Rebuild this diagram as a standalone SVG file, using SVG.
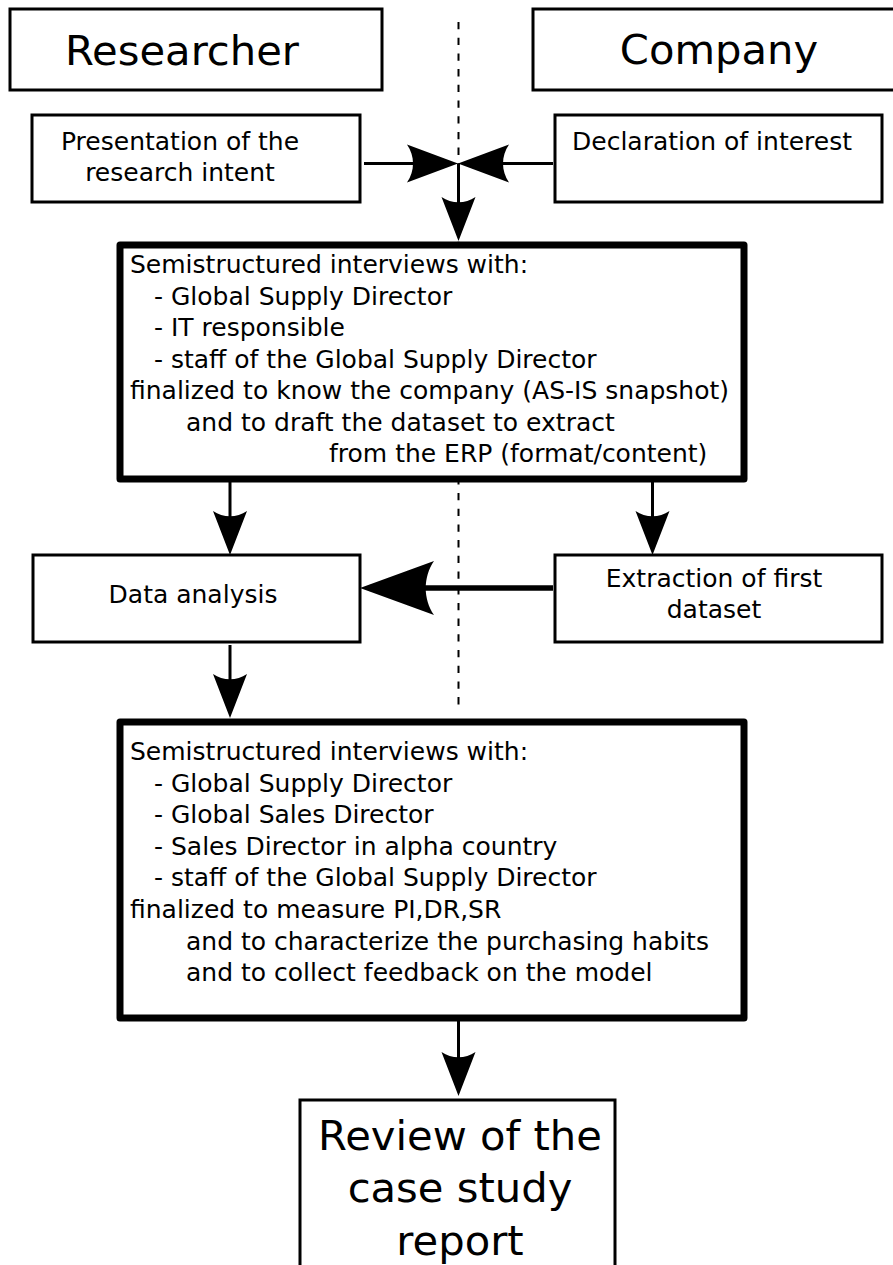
<svg xmlns="http://www.w3.org/2000/svg" width="893" height="1265" viewBox="0 0 893 1265">
<style>
text{font-family:"DejaVu Sans","Liberation Sans",sans-serif;fill:#000}
.t25{font-size:25px}
.t42{font-size:41.7px}
.box{fill:#fff;stroke:#000;stroke-width:3}
.bold{fill:#fff;stroke:#000;stroke-width:7;stroke-linejoin:round}
.con{fill:none;stroke:#000;stroke-width:3}
.thick{fill:none;stroke:#000;stroke-width:5.5}
.mid{text-anchor:middle}
</style>
<defs>
<marker id="ahH" markerUnits="userSpaceOnUse" orient="auto" refX="-22" refY="0" markerWidth="80" markerHeight="60" viewBox="-60 -30 80 60" overflow="visible">
<path d="M0,0 L-51,-19 C-43,-7.6 -43,7.6 -51,19 Z" fill="#000"/>
</marker>
<marker id="ahV" markerUnits="userSpaceOnUse" orient="auto" refX="-20" refY="0" markerWidth="80" markerHeight="60" viewBox="-60 -30 80 60" overflow="visible">
<path d="M0,0 L-44,-17 C-37,-6.8 -37,6.8 -44,17 Z" fill="#000"/>
</marker>
<marker id="ahB" markerUnits="userSpaceOnUse" orient="auto" refX="-30" refY="0" markerWidth="100" markerHeight="80" viewBox="-90 -40 100 80" overflow="visible">
<path d="M0,0 L-74,-27 C-63,-11 -63,11 -74,27 Z" fill="#000"/>
</marker>
</defs>
<rect width="893" height="1265" fill="#fff"/>
<line id="divider" x1="458.5" y1="22" x2="458.5" y2="712" stroke="#000" stroke-width="2" stroke-dasharray="7.3 8.4"/>
<g id="connectors">
<line class="con" x1="364" y1="163.5" x2="436" y2="163.5" marker-end="url(#ahH)"/>
<line class="con" x1="553" y1="163.5" x2="480" y2="163.5" marker-end="url(#ahH)"/>
<line class="con" x1="458.5" y1="163.5" x2="458.5" y2="221" marker-end="url(#ahV)"/>
<line class="con" x1="230" y1="482" x2="230" y2="535" marker-end="url(#ahV)"/>
<line class="con" x1="652.5" y1="482" x2="652.5" y2="535" marker-end="url(#ahV)"/>
<line class="thick" x1="553" y1="588" x2="390" y2="588" marker-end="url(#ahB)"/>
<line class="con" x1="230" y1="645" x2="230" y2="698" marker-end="url(#ahV)"/>
<line class="con" x1="458.5" y1="1021" x2="458.5" y2="1076" marker-end="url(#ahV)"/>
</g>
<g id="researcher">
<rect class="box" x="10" y="9" width="372" height="81"/>
<text class="t42 mid" x="182" y="65">Researcher</text>
</g>
<g id="company">
<rect class="box" x="533" y="9" width="370" height="81"/>
<text class="t42 mid" x="719" y="64">Company</text>
</g>
<g id="presentation">
<rect class="box" x="32" y="115" width="328" height="87"/>
<text class="t25 mid" x="180" y="150">Presentation of the</text>
<text class="t25 mid" x="180" y="181">research intent</text>
</g>
<g id="declaration">
<rect class="box" x="555" y="115" width="327" height="87"/>
<text class="t25" x="572" y="150">Declaration of interest</text>
</g>
<g id="interviews1">
<rect class="bold" x="120" y="245" width="624" height="234"/>
<text class="t25" x="130" y="273">Semistructured interviews with:</text>
<text class="t25" x="154" y="304.5">- Global Supply Director</text>
<text class="t25" x="154" y="336">- IT responsible</text>
<text class="t25" x="154" y="367.5">- staff of the Global Supply Director</text>
<text class="t25" x="130" y="399">finalized to know the company (AS-IS snapshot)</text>
<text class="t25" x="186" y="430.5">and to draft the dataset to extract</text>
<text class="t25" x="329" y="462">from the ERP (format/content)</text>
</g>
<g id="data-analysis">
<rect class="box" x="33" y="555" width="327" height="87"/>
<text class="t25 mid" x="193" y="603">Data analysis</text>
</g>
<g id="extraction">
<rect class="box" x="555" y="555" width="327" height="87"/>
<text class="t25 mid" x="714" y="587">Extraction of first</text>
<text class="t25 mid" x="714" y="618">dataset</text>
</g>
<g id="interviews2">
<rect class="bold" x="120" y="722" width="624" height="296"/>
<text class="t25" x="130" y="760">Semistructured interviews with:</text>
<text class="t25" x="154" y="791.6">- Global Supply Director</text>
<text class="t25" x="154" y="823.2">- Global Sales Director</text>
<text class="t25" x="154" y="854.8">- Sales Director in alpha country</text>
<text class="t25" x="154" y="886.4">- staff of the Global Supply Director</text>
<text class="t25" x="130" y="918">finalized to measure PI,DR,SR</text>
<text class="t25" x="186" y="949.6">and to characterize the purchasing habits</text>
<text class="t25" x="186" y="981.2">and to collect feedback on the model</text>
</g>
<g id="review">
<rect class="box" x="300" y="1100" width="315" height="200"/>
<text class="t42 mid" x="460" y="1149.5">Review of the</text>
<text class="t42 mid" x="460" y="1202">case study</text>
<text class="t42 mid" x="460" y="1254.5">report</text>
</g>
</svg>
